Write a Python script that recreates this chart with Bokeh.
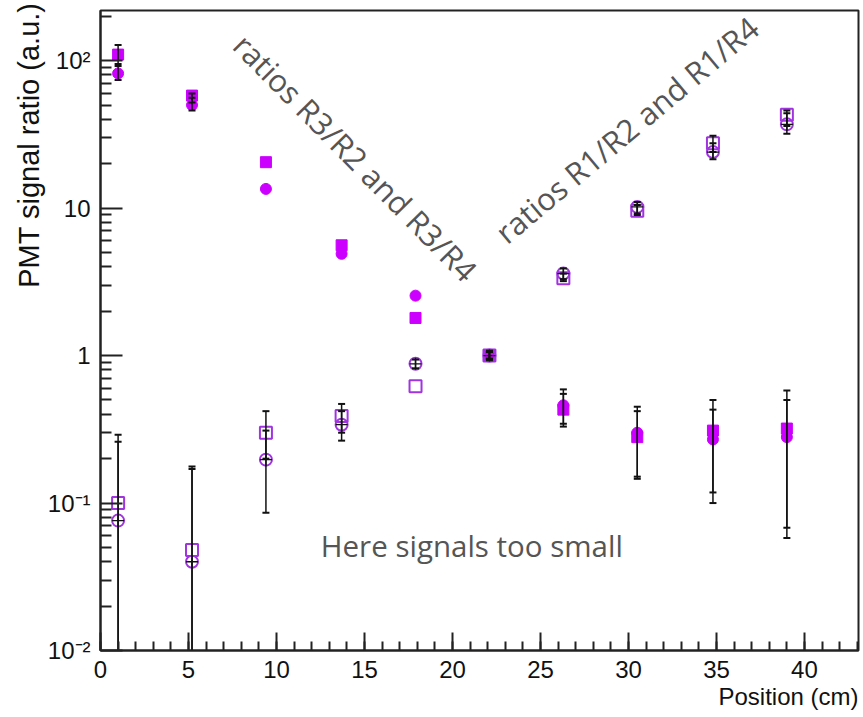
import math
from bokeh.plotting import figure
from bokeh.models import Range1d, FixedTicker, Label, Title
from bokeh.embed import file_html
from bokeh.resources import INLINE

nan = float("nan")

# ---- data ----
positions = [1.0, 5.2, 9.4, 13.7, 17.9, 22.1, 26.3, 30.5, 34.8, 39.0]

# filled squares / filled circles  (ratios R3/R2 and R3/R4)
r3r2 = [110, 58, 20.5, 5.6, 1.8, 1.0, 0.43, 0.28, 0.31, 0.32]
r3r4 = [82, 50, 13.5, 4.9, 2.55, 1.0, 0.46, 0.30, 0.27, 0.28]
# open squares / open circles  (ratios R1/R2 and R1/R4)
r1r2 = [0.10, 0.048, 0.30, 0.39, 0.62, 1.0, 3.35, 9.6, 27.5, 43]
r1r4 = [0.076, 0.040, 0.197, 0.34, 0.88, 1.0, 3.6, 10.2, 24, 37]

# error bar bounds (lower, upper)
r3r2_lo = [95, 52, nan, nan, nan, 0.95, 0.345, 0.151, 0.118, 0.068]
r3r2_hi = [128, 60, nan, nan, nan, 1.06, 0.55, 0.42, 0.43, 0.50]
r3r4_lo = [74, 46, nan, nan, nan, 0.95, 0.33, 0.146, 0.10, 0.058]
r3r4_hi = [92, 56, nan, nan, nan, 1.06, 0.59, 0.45, 0.50, 0.58]
r1r2_lo = [0.001, 0.001, 0.20, 0.30, nan, 0.95, 3.2, 9.0, 24, 36]
r1r2_hi = [0.29, 0.177, 0.42, 0.47, nan, 1.06, 3.6, 10.5, 31, 46]
r1r4_lo = [0.001, 0.001, 0.086, 0.265, 0.82, 0.93, 3.3, 9.2, 21.5, 32]
r1r4_hi = [0.26, 0.17, 0.31, 0.42, 0.94, 1.08, 3.9, 11, 27.5, 44]

x_major = [0, 5, 10, 15, 20, 25, 30, 35, 40]
y_major = [0.01, 0.1, 1, 10, 100]
y_labels = {0.01: "10\u207b\u00b2", 0.1: "10\u207b\u00b9", 1: "1", 10: "10", 100: "10\u00b2"}
x_title = "Position (cm)"
y_title = "PMT signal ratio (a.u.)"

FILLED = "#cc00ff"
OPEN = "#a035e0"
GRAY = "#555555"
FONT = "Liberation Sans"

p = figure(width=863, height=717, y_axis_type="log",
           x_range=Range1d(0, 43.07), y_range=Range1d(0.01, 219),
           output_backend="svg", toolbar_location=None,
           min_border_left=100, min_border_right=5, min_border_top=10,
           min_border_bottom=67)
p.grid.visible = False
p.outline_line_color = "#222222"
p.outline_line_width = 2
p.background_fill_color = "white"
p.border_fill_color = "white"

y_minor = []
for d in range(-2, 3):
    for k in range(2, 10):
        v = k * 10 ** d
        if v <= 219:
            y_minor.append(v)

p.xaxis.ticker = FixedTicker(ticks=x_major, minor_ticks=list(range(0, 44)))
p.yaxis.ticker = FixedTicker(ticks=y_major, minor_ticks=y_minor)
p.yaxis.major_label_overrides = y_labels

for ax in (p.xaxis[0], p.yaxis[0]):
    ax.axis_line_width = 2
    ax.axis_line_color = "#222222"
    ax.major_tick_out = 0
    ax.minor_tick_out = 0
    ax.major_tick_line_width = 2
    ax.minor_tick_line_width = 2
    ax.major_tick_line_color = "#222222"
    ax.minor_tick_line_color = "#222222"
    ax.major_label_text_font = FONT
    ax.major_label_text_font_size = "24px"
    ax.major_label_text_color = "#111111"
    ax.major_label_standoff = 10
p.xaxis.major_tick_in = 18
p.xaxis.minor_tick_in = 9
p.yaxis.major_tick_in = 22
p.yaxis.minor_tick_in = 11

p.add_layout(Title(text=x_title, align="right", text_font=FONT, text_font_style="normal",
                   text_font_size="24px", text_color="#111111", standoff=0, offset=0), "below")
p.add_layout(Title(text=y_title, align="right", text_font=FONT, text_font_style="normal",
                   text_font_size="29px", text_color="#111111", standoff=0, offset=-8), "left")

# markers
p.scatter(positions, r3r2, marker="square", size=11, fill_color=FILLED, line_color=FILLED)
p.scatter(positions, r3r4, marker="circle", size=11, fill_color=FILLED, line_color=FILLED)
p.scatter(positions, r1r2, marker="square", size=12, fill_color=None, line_color=OPEN, line_width=2)
p.scatter(positions, r1r4, marker="circle", size=12, fill_color=None, line_color=OPEN, line_width=2)
p.scatter(positions, r1r4, marker="cross", size=12, line_color="#111111", line_width=1.3)

# error bars
for lo, hi in ((r3r2_lo, r3r2_hi), (r3r4_lo, r3r4_hi), (r1r2_lo, r1r2_hi), (r1r4_lo, r1r4_hi)):
    xs = [x for x, a in zip(positions, lo) if not math.isnan(a)]
    los = [a for a in lo if not math.isnan(a)]
    his = [b for b in hi if not math.isnan(b)]
    p.segment(x0=xs, y0=los, x1=xs, y1=his, line_color="#111111", line_width=1.5)
    p.scatter(xs, los, marker="dash", size=7, line_color="#111111", line_width=2)
    p.scatter(xs, his, marker="dash", size=7, line_color="#111111", line_width=2)

# annotations
p.add_layout(Label(x=14.5, y=22.0, text="ratios R3/R2 and R3/R4", angle=-math.radians(45.5),
                   text_align="center", text_baseline="middle", text_color=GRAY,
                   text_font="Open Sans", text_font_size="31px"))
p.add_layout(Label(x=29.9, y=34.0, text="ratios R1/R2 and R1/R4", angle=math.radians(40),
                   text_align="center", text_baseline="middle", text_color=GRAY,
                   text_font="Open Sans", text_font_size="31px"))
p.add_layout(Label(x=21.1, y=0.0515, text="Here signals too small",
                   text_align="center", text_baseline="middle", text_color=GRAY,
                   text_font="Open Sans", text_font_size="29.5px"))

open("out.html", "w").write(file_html(p, INLINE))
